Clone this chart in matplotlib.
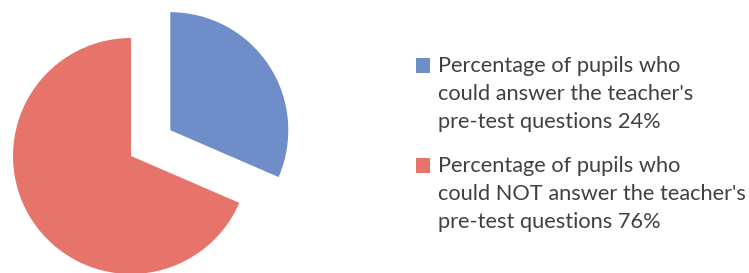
import matplotlib.pyplot as plt

# --- data ---
labels = [
    "Percentage of pupils who\ncould answer the teacher's\npre-test questions 24%",
    "Percentage of pupils who\ncould NOT answer the teacher's\npre-test questions 76%",
]
# slice sizes as drawn in the picture (the drawn wedge is wider than 24%)
slice_shares = [31.5, 68.5]
colors = ["#6F8EC9", "#E6746A"]

W, H = 749, 273
fig = plt.figure(figsize=(W / 100, H / 100), dpi=100)
ax = fig.add_axes([0, 0, 1, 1])

radius = 118
wedges, _ = ax.pie(slice_shares, colors=colors, startangle=90, counterclock=False,
                   radius=radius, center=(131, H - 156), explode=[47, 0], frame=True)

ax.set_xlim(0, W)
ax.set_ylim(0, H)
ax.set_aspect("equal")
ax.axis("off")

fs = 15.7
line_sp = 1.5
leg = ax.legend(wedges, labels, loc="upper left", bbox_to_anchor=(416 / W, 1 - 56 / H),
                frameon=False, borderpad=0, borderaxespad=0,
                handlelength=0.64, handleheight=0.64, handletextpad=0.36,
                labelspacing=1.1, prop={"family": "Lato", "size": fs})
for t in leg.get_texts():
    t.set_color("#404040")
    t.set_linespacing(line_sp)

# move the colour squares up to the first line of each label
shift = 28.7 * 0.72
for p in leg.get_patches():
    p.set_y(p.get_y() + shift)

fig.savefig("out.png", dpi=100)
